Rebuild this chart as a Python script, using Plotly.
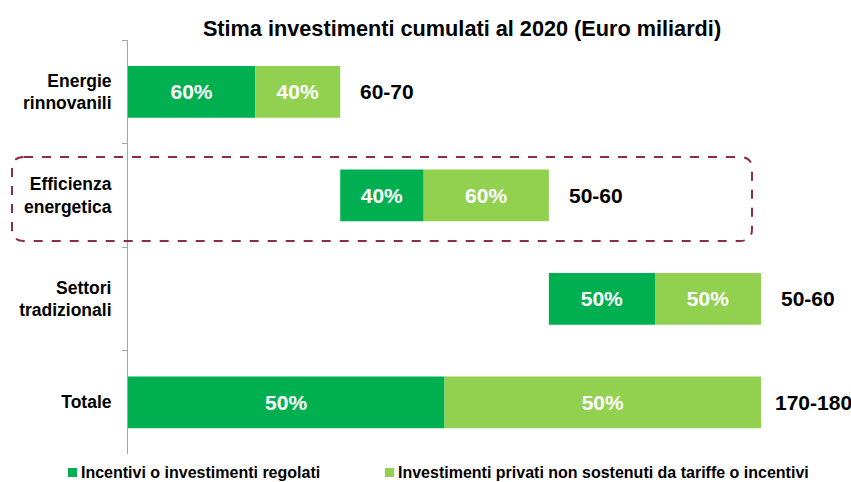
import plotly.graph_objects as go

categories = ["Energie<br>rinnovanili", "Efficienza<br>energetica", "Settori<br>tradizionali", "Totale"]
bar_length = [60, 59, 60, 179]          # Euro miliardi (bar lengths as drawn)
share_incentivi = [0.6, 0.4, 0.5, 0.5]  # share of first segment
labels_incentivi = ["60%", "40%", "50%", "50%"]
labels_privati = ["40%", "60%", "50%", "50%"]
range_labels = ["60-70", "50-60", "50-60", "170-180"]
series_names = ["Incentivi o investimenti regolati",
                "Investimenti privati non sostenuti da tariffe o incentivi"]

# waterfall offsets: each component starts where previous ended; total starts at 0
base = []
acc = 0
for i, L in enumerate(bar_length):
    if i < len(bar_length) - 1:
        base.append(acc)
        acc += L
    else:
        base.append(0)

green_vals = [L * s for L, s in zip(bar_length, share_incentivi)]
light_vals = [L - g for L, g in zip(bar_length, green_vals)]
light_base = [b + g for b, g in zip(base, green_vals)]

DARK = "#00B050"
LIGHT = "#92D050"
COLORS = [DARK, LIGHT]
FONT = "Liberation Sans, Arial, sans-serif"

fig = go.Figure()
fig.add_trace(go.Bar(
    y=categories, x=green_vals, base=base, orientation="h",
    name=series_names[0], marker=dict(color=DARK, line=dict(width=0)),
    text=labels_incentivi, textposition="inside", insidetextanchor="middle",
    textfont=dict(color="white", size=21, family=FONT, weight="bold"),
    hoverinfo="skip", showlegend=False,
))
fig.add_trace(go.Bar(
    y=categories, x=light_vals, base=light_base, orientation="h",
    name=series_names[1], marker=dict(color=LIGHT, line=dict(width=0)),
    text=labels_privati, textposition="inside", insidetextanchor="middle",
    textfont=dict(color="white", size=21, family=FONT, weight="bold"),
    hoverinfo="skip", showlegend=False,
))

label_shift = [18, 18, 18, 12]
for cat, b, L, lab, sh in zip(categories, base, bar_length, range_labels, label_shift):
    fig.add_annotation(x=b + L, y=cat, text=lab, showarrow=False,
                       xanchor="left", xshift=sh, yanchor="middle",
                       font=dict(size=21, color="black", family=FONT, weight="bold"))

# geometry helpers (pixel -> paper)
L_M, T_M, W, H = 128, 40, 672, 414
def px(x):
    return (x - L_M) / W
def py(y):
    return (T_M + H - y) / H

x0, x1, y0, y1, r = 12, 752, 157, 241, 12
path = (f"M {px(x0 + r)} {py(y0)} L {px(x1 - r)} {py(y0)} "
        f"Q {px(x1)} {py(y0)} {px(x1)} {py(y0 + r)} "
        f"L {px(x1)} {py(y1 - r)} Q {px(x1)} {py(y1)} {px(x1 - r)} {py(y1)} "
        f"L {px(x0 + r)} {py(y1)} Q {px(x0)} {py(y1)} {px(x0)} {py(y1 - r)} "
        f"L {px(x0)} {py(y0 + r)} Q {px(x0)} {py(y0)} {px(x0 + r)} {py(y0)} Z")
fig.add_shape(type="path", path=path, xref="paper", yref="paper",
              line=dict(color="#8E2A4E", width=2, dash="dash"))

# custom legend (small squares close to text)
legend_x = [68, 385]
legend_y = 472
for name, col, lx in zip(series_names, COLORS, legend_x):
    fig.add_shape(type="rect", xref="paper", yref="paper",
                  x0=px(lx), x1=px(lx + 9), y0=py(legend_y + 5), y1=py(legend_y - 4),
                  fillcolor=col, line=dict(width=0))
    fig.add_annotation(x=px(lx + 11), y=py(legend_y), xref="paper", yref="paper",
                       text=name, showarrow=False, xanchor="left", yanchor="middle",
                       font=dict(size=16, color="black", family=FONT, weight="bold"))

fig.update_layout(
    width=851, height=482,
    margin=dict(l=L_M, r=851 - L_M - W, t=T_M, b=482 - T_M - H, autoexpand=False),
    paper_bgcolor="white", plot_bgcolor="white",
    barmode="overlay", bargap=0.5,
    showlegend=False,
    title=dict(text="Stima investimenti cumulati al 2020 (Euro miliardi)",
               x=462 / 851, xanchor="center", y=1 - 28 / 482, yanchor="middle",
               automargin=False,
               font=dict(size=21.7, color="black", family=FONT, weight="bold")),
    xaxis=dict(range=[0, 190], showgrid=False, zeroline=False, automargin=False,
               showticklabels=False, showline=False, fixedrange=True),
    yaxis=dict(type="category", categoryorder="array", categoryarray=categories,
               autorange="reversed", showgrid=False, zeroline=False, automargin=False,
               showline=True, linecolor="#A6A6A6", linewidth=1,
               ticks="outside", tickson="boundaries", ticklen=5, tickcolor="#A6A6A6",
               ticklabelstandoff=12,
               tickfont=dict(size=17.5, color="black", family=FONT, weight="bold")),
)

fig.write_html("out.html", config={"displayModeBar": False},
               post_script="document.body.style.margin='0';document.body.style.overflow='hidden';")
